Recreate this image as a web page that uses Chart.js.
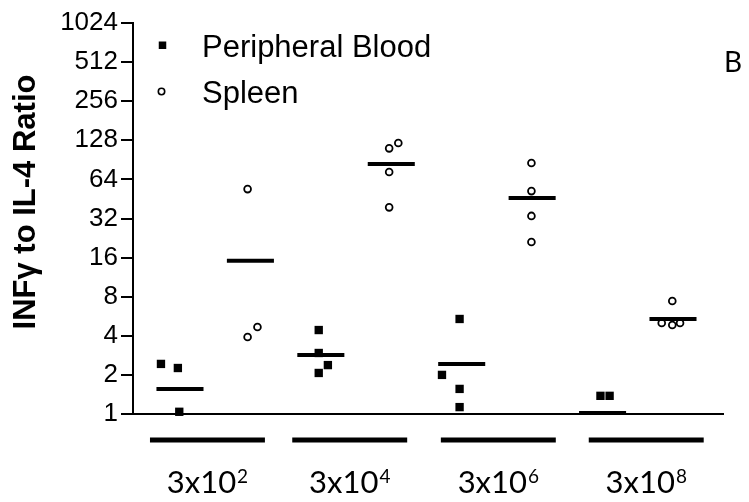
<!DOCTYPE html>
<html><head><meta charset="utf-8">
<script src="https://cdn.jsdelivr.net/npm/chart.js@4.4.1/dist/chart.umd.min.js"></script>
<style>html,body{margin:0;padding:0;background:#fff;}#wrap{width:749px;height:502px;}</style>
</head><body>
<div id="wrap"><canvas id="c" width="749" height="502"></canvas></div>
<script>
// ---------- data ----------
const categories = ['3x10^2', '3x10^4', '3x10^6', '3x10^8'];
const seriesNames = ['Peripheral Blood', 'Spleen'];
const yTickValues = [1, 2, 4, 8, 16, 32, 64, 128, 256, 512, 1024];
const yTitle = 'INFγ to IL-4 Ratio';
const panelLabel = 'B';

const bloodValues = [
  [2.43, 2.26, 1.04],
  [4.43, 2.95, 2.38, 2.07],
  [5.39, 2.0, 1.56, 1.13],
  [1.38, 1.38]
];
const spleenValues = [
  [3.92, 4.68, 53.9],
  [122, 111, 73, 39],
  [85.6, 52, 33.5, 21.1],
  [7.41, 5.02, 5.02, 4.85]
];
const bloodMeans = [1.56, 2.85, 2.43, 1.02];
const spleenMeans = [15.1, 84, 46, 5.39];

// ---------- layout (horizontal scatter of dots, in column units) ----------
const bloodJitter = [[-0.27, -0.03, -0.01], [-0.03, -0.03, 0.10, -0.03], [-0.03, -0.28, -0.03, -0.03], [-0.03, 0.10]];
const spleenJitter = [[-0.04, 0.10, -0.04], [0.10, -0.03, -0.03, -0.03], [-0.01, -0.01, -0.01, -0.01], [-0.01, -0.16, 0.10, -0.01]];
const bracketShift = [-0.11, -0.09, 0.02, 0.12];
const bracketHalf = 0.816;
const meanHalf = 0.334;

const blk = '#000';
const pts = (vals, jit, off) => vals.flatMap((arr, k) => arr.map((v, i) => ({ x: 2 * k + off + jit[k][i], y: v })));

const datasets = [];
bloodMeans.forEach((m, k) => datasets.push({ type: 'line', data: [{ x: 2 * k - meanHalf, y: m }, { x: 2 * k + meanHalf, y: m }], borderColor: blk, borderWidth: 4, pointRadius: 0, clip: false, borderCapStyle: 'butt' }));
spleenMeans.forEach((m, k) => datasets.push({ type: 'line', data: [{ x: 2 * k + 1 - meanHalf, y: m }, { x: 2 * k + 1 + meanHalf, y: m }], borderColor: blk, borderWidth: 4, pointRadius: 0, clip: false, borderCapStyle: 'butt' }));
datasets.push({ label: seriesNames[0], data: pts(bloodValues, bloodJitter, 0), pointStyle: 'rect', pointRadius: 5.9, backgroundColor: blk, borderWidth: 0, clip: false });
datasets.push({ label: seriesNames[1], data: pts(spleenValues, spleenJitter, 1), pointStyle: 'circle', pointRadius: 3.4, backgroundColor: '#fff', borderColor: blk, borderWidth: 1.8, clip: false });

const decor = {
  id: 'decor',
  afterDraw(chart) {
    const { ctx, chartArea: ca, scales: { x } } = chart;
    ctx.save();
    ctx.fillStyle = blk;
    // group brackets and category labels
    categories.forEach((cat, k) => {
      const c = 2 * k + 0.5 + bracketShift[k];
      const x0 = x.getPixelForValue(c - bracketHalf), x1 = x.getPixelForValue(c + bracketHalf);
      ctx.fillRect(x0, ca.bottom + 23.5, x1 - x0, 5);
      const [base, exp] = cat.split('^');
      ctx.font = '31px Lato'; const wb = ctx.measureText(base).width;
      ctx.font = '19px Lato'; const we = ctx.measureText(exp).width;
      const left = x.getPixelForValue(c) - (wb + we + 1) / 2;
      ctx.textAlign = 'left'; ctx.textBaseline = 'alphabetic';
      ctx.font = '31px Lato'; ctx.fillText(base, left, ca.bottom + 79);
      ctx.font = '19px Lato'; ctx.fillText(exp, left + wb + 1, ca.bottom + 69);
    });
    // legend
    const mx = ca.left + 29.5, tx = ca.left + 69;
    ctx.fillRect(mx - 3.75, 41.5, 7.5, 7.5);
    ctx.beginPath(); ctx.arc(mx - 1, 91.5, 3.2, 0, Math.PI * 2);
    ctx.fillStyle = '#fff'; ctx.fill(); ctx.lineWidth = 1.6; ctx.strokeStyle = blk; ctx.stroke();
    ctx.fillStyle = blk;
    ctx.font = '31px "Liberation Sans"'; ctx.textAlign = 'left'; ctx.textBaseline = 'alphabetic';
    ctx.fillText(seriesNames[0], tx, 57);
    ctx.fillText(seriesNames[1], tx, 103);
    // y title
    ctx.save();
    ctx.translate(35, 202); ctx.rotate(-Math.PI / 2);
    ctx.font = 'bold 31px "Liberation Sans"'; ctx.textAlign = 'center';
    ctx.fillText(yTitle, 0, 0);
    ctx.restore();
    // panel label
    ctx.font = '28px Lato'; ctx.textAlign = 'center';
    ctx.fillText(panelLabel, chart.width - 16, 72);
    ctx.restore();
  }
};

new Chart(document.getElementById('c'), {
  type: 'scatter',
  data: { datasets },
  options: {
    responsive: false,
    devicePixelRatio: 1,
    animation: false,
    layout: { padding: { top: 23, right: 26, left: 0, bottom: 0 } },
    plugins: { legend: { display: false }, tooltip: { enabled: false } },
    scales: {
      x: {
        type: 'linear', min: -0.667, max: 7.71,
        afterFit: s => { s.height = 88; },
        ticks: { display: false },
        grid: { display: false },
        border: { display: true, color: blk, width: 2 }
      },
      y: {
        type: 'logarithmic', min: 1, max: 1024,
        afterFit: s => { s.width = 133; },
        afterBuildTicks: s => { s.ticks = yTickValues.map(v => ({ value: v })); },
        ticks: { callback: v => String(v), color: blk, font: { family: '"Liberation Sans", Arial, sans-serif', size: 26 }, padding: 3, autoSkip: false },
        grid: { drawOnChartArea: false, drawTicks: true, tickLength: 12, color: blk, lineWidth: 2 },
        border: { display: true, color: blk, width: 2 }
      }
    }
  },
  plugins: [decor]
});
</script>
</body></html>
